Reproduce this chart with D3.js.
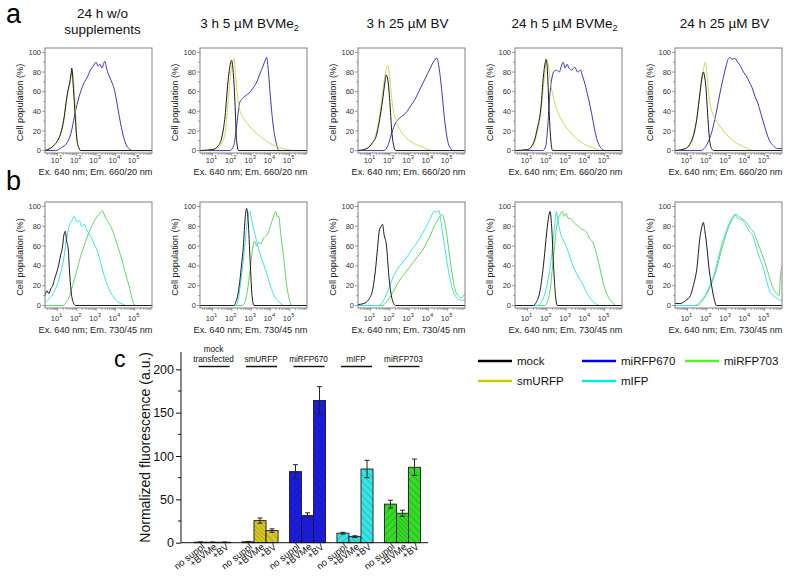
<!DOCTYPE html>
<html>
<head>
<meta charset="utf-8">
<script src="https://cdn.jsdelivr.net/npm/d3@7"></script>
<style>
  body { margin: 0; background: #fff; }
  svg { font-family: "Liberation Sans", Arial, sans-serif; display: block; }
</style>
</head>
<body>
<div id="chart"></div>
<script>
// ---- Histogramas: [log10 intensidad, % de células] ----
// fila a: Ex. 640 / Em. 660/20
const a1Mock = [[0.35,0],[0.6,2],[0.8,5],[1.0,10],[1.2,20],[1.35,35],[1.45,50],[1.55,62],[1.62,68],[1.7,78],[1.74,84],[1.8,70],[1.9,40],[2.0,12],[2.1,3],[2.2,0],[5.9,0]];
const a1Sm   = [[0.35,1],[0.6,2],[0.8,5],[1.0,10],[1.2,19],[1.35,33],[1.45,48],[1.55,60],[1.65,70],[1.72,78],[1.77,82],[1.83,72],[1.92,45],[2.0,15],[2.1,3],[2.3,0],[5.9,0]];
const a1Blue = [[0.35,0],[0.9,0],[1.2,3],[1.5,8],[1.7,18],[1.88,35],[2.05,50],[2.2,60],[2.4,70],[2.55,75],[2.7,82],[2.85,86],[3.0,90],[3.1,86],[3.2,88],[3.3,84],[3.45,91],[3.55,83],[3.7,75],[3.85,68],[3.95,62],[4.05,52],[4.2,35],[4.35,20],[4.5,9],[4.7,2],[4.9,0],[5.9,0]];

const a2Mock = [[0.35,0],[1.0,1],[1.3,5],[1.5,15],[1.65,35],[1.8,70],[1.92,88],[1.98,92],[2.05,85],[2.15,55],[2.25,10],[2.35,0],[5.9,0]];
const a2Sm   = [[0.35,0],[1.2,2],[1.5,8],[1.7,25],[1.85,60],[1.95,80],[2.05,90],[2.12,94],[2.2,75],[2.3,55],[2.43,40],[2.55,35],[2.7,30],[2.9,25],[3.2,19],[3.5,14],[3.85,9],[4.2,5],[4.5,3],[4.9,1],[5.2,0],[5.9,0]];
const a2Blue = [[0.35,0],[1.9,0],[2.1,5],[2.25,25],[2.4,48],[2.5,52],[2.65,55],[2.8,57],[3.0,61],[3.15,65],[3.3,70],[3.45,78],[3.6,85],[3.75,93],[3.8,95],[3.9,80],[4.0,55],[4.15,25],[4.3,8],[4.45,0],[5.9,0]];

const a3Mock = [[0.35,0],[0.8,2],[1.1,8],[1.3,15],[1.5,35],[1.65,55],[1.75,70],[1.82,77],[1.9,72],[2.0,50],[2.1,20],[2.2,5],[2.3,0],[5.9,0]];
const a3Sm   = [[0.35,0],[0.8,2],[1.1,8],[1.3,18],[1.5,40],[1.65,62],[1.78,80],[1.88,87],[1.95,82],[2.05,62],[2.15,45],[2.3,32],[2.5,22],[2.8,14],[3.1,9],[3.5,5],[3.9,2],[4.2,0],[5.9,0]];
const a3Blue = [[0.35,0],[1.7,0],[1.9,5],[2.1,18],[2.3,28],[2.5,33],[2.7,36],[2.9,40],[3.1,46],[3.3,52],[3.5,60],[3.7,68],[3.9,76],[4.1,84],[4.25,90],[4.35,93],[4.45,94],[4.55,85],[4.7,60],[4.85,30],[5.0,10],[5.15,2],[5.3,0],[5.9,0]];

const a4Mock = [[0.35,0],[1.0,1],[1.2,4],[1.35,10],[1.5,22],[1.7,45],[1.82,75],[1.92,90],[1.96,93],[2.02,85],[2.12,40],[2.22,8],[2.3,0],[5.9,0]];
const a4Sm   = [[0.35,0],[1.0,1],[1.3,6],[1.5,18],[1.7,40],[1.85,70],[1.95,88],[2.02,92],[2.1,85],[2.2,68],[2.3,58],[2.45,46],[2.6,38],[2.8,30],[3.0,24],[3.3,17],[3.6,11],[3.9,7],[4.2,4],[4.5,2],[4.8,0],[5.9,0]];
const a4Blue = [[0.35,0],[1.8,0],[1.95,5],[2.05,25],[2.15,55],[2.25,72],[2.35,80],[2.5,82],[2.65,80],[2.75,86],[2.85,90],[2.95,84],[3.05,88],[3.15,84],[3.3,82],[3.45,85],[3.6,80],[3.75,82],[3.85,76],[3.95,70],[4.1,58],[4.25,45],[4.4,30],[4.55,15],[4.7,6],[4.9,1],[5.0,0],[5.9,0]];

const a5Mock = [[0.35,0],[0.9,2],[1.1,6],[1.3,15],[1.5,35],[1.65,60],[1.75,75],[1.82,80],[1.88,76],[1.95,65],[2.05,35],[2.15,10],[2.25,2],[2.35,0],[5.9,0]];
const a5Sm   = [[0.35,0],[0.9,2],[1.2,8],[1.4,22],[1.6,50],[1.75,72],[1.85,85],[1.92,90],[2.0,80],[2.1,58],[2.2,45],[2.35,35],[2.6,27],[2.9,19],[3.2,13],[3.5,8],[3.8,5],[4.1,2],[4.5,0],[5.9,0]];
const a5Blue = [[0.35,0],[1.7,0],[1.9,3],[2.1,10],[2.3,22],[2.45,35],[2.6,50],[2.75,65],[2.9,78],[3.0,86],[3.1,93],[3.2,95],[3.3,93],[3.45,94],[3.6,90],[3.75,86],[3.9,80],[4.05,76],[4.2,70],[4.35,64],[4.5,55],[4.65,48],[4.8,38],[4.95,28],[5.1,18],[5.25,10],[5.45,5],[5.65,2],[5.9,2]];

// fila b: Ex. 640 / Em. 730/45
const b1Mock  = [[0.35,10],[0.45,15],[0.55,12],[0.65,17],[0.75,20],[0.85,27],[0.95,33],[1.05,40],[1.15,50],[1.25,58],[1.32,70],[1.4,75],[1.47,65],[1.55,58],[1.62,35],[1.7,15],[1.8,4],[1.95,0],[5.9,0]];
const b1Cyan  = [[0.35,3],[0.5,6],[0.7,10],[0.85,15],[1.0,22],[1.15,32],[1.3,45],[1.45,65],[1.6,80],[1.75,86],[1.87,90],[2.0,84],[2.12,86],[2.25,80],[2.38,82],[2.55,75],[2.72,70],[2.9,62],[3.07,55],[3.25,42],[3.42,30],[3.6,20],[3.85,10],[4.05,5],[4.3,2],[4.6,0],[5.9,0]];
const b1Green = [[0.35,0],[1.3,0],[1.45,3],[1.6,8],[1.78,20],[2.0,35],[2.2,50],[2.38,60],[2.55,70],[2.72,78],[2.9,85],[3.05,90],[3.2,93],[3.33,96],[3.45,90],[3.6,85],[3.76,80],[3.95,70],[4.12,60],[4.28,50],[4.45,38],[4.6,27],[4.71,20],[4.85,8],[4.97,1],[5.1,0],[5.9,0]];

const b2Mock  = [[0.35,0],[2.1,0],[2.2,3],[2.35,15],[2.5,40],[2.6,60],[2.7,90],[2.77,98],[2.85,85],[2.95,45],[3.05,10],[3.15,0],[5.9,0]];
const b2Cyan  = [[0.35,0],[2.2,0],[2.35,8],[2.5,30],[2.65,55],[2.8,85],[2.93,95],[3.0,90],[3.1,80],[3.2,72],[3.35,60],[3.5,50],[3.68,40],[3.85,30],[4.0,20],[4.2,10],[4.43,4],[4.7,0],[5.9,0]];
const b2Green = [[0.35,0],[2.55,0],[2.7,5],[2.85,20],[3.0,45],[3.1,60],[3.18,65],[3.3,60],[3.4,64],[3.5,62],[3.65,68],[3.75,70],[3.85,72],[4.0,80],[4.1,86],[4.2,92],[4.27,95],[4.35,90],[4.43,90],[4.55,70],[4.68,50],[4.85,20],[5.0,5],[5.1,0],[5.9,0]];

const b3Mock  = [[0.35,1],[0.65,2],[0.9,6],[1.1,15],[1.25,35],[1.35,55],[1.45,75],[1.55,80],[1.62,82],[1.7,72],[1.83,60],[1.95,30],[2.08,10],[2.2,2],[2.3,0],[5.9,0]];
const b3Cyan  = [[0.35,0],[1.4,0],[1.6,3],[1.8,10],[2.0,20],[2.2,30],[2.4,37],[2.6,42],[2.8,47],[3.0,52],[3.15,57],[3.35,62],[3.55,68],[3.7,73],[3.85,78],[4.0,84],[4.15,90],[4.3,95],[4.45,94],[4.55,96],[4.65,85],[4.8,65],[5.0,40],[5.2,20],[5.4,10],[5.6,6],[5.9,5]];
const b3Green = [[0.35,0],[1.6,0],[1.8,3],[2.0,8],[2.2,15],[2.4,22],[2.6,28],[2.8,33],[3.0,38],[3.15,42],[3.35,47],[3.55,52],[3.7,56],[3.85,61],[4.0,67],[4.15,73],[4.3,80],[4.45,85],[4.6,90],[4.7,92],[4.8,88],[4.95,72],[5.1,50],[5.25,30],[5.4,15],[5.55,10],[5.7,8],[5.9,12]];

const b4Mock  = [[0.35,0],[1.3,0],[1.45,3],[1.65,15],[1.85,45],[2.0,75],[2.1,90],[2.17,95],[2.25,80],[2.35,40],[2.45,10],[2.55,0],[5.9,0]];
const b4Cyan  = [[0.35,0],[1.5,0],[1.7,3],[1.9,12],[2.1,30],[2.25,50],[2.35,70],[2.45,88],[2.5,95],[2.55,90],[2.65,78],[2.75,70],[2.85,66],[3.0,60],[3.15,52],[3.35,40],[3.55,32],[3.75,25],[3.9,20],[4.1,12],[4.35,5],[4.6,1],[4.8,0],[5.9,0]];
const b4Green = [[0.35,0],[1.9,0],[2.05,5],[2.2,20],[2.3,40],[2.4,60],[2.5,78],[2.6,88],[2.7,92],[2.8,95],[2.9,90],[3.0,93],[3.1,88],[3.2,88],[3.35,85],[3.5,82],[3.65,80],[3.8,77],[3.95,76],[4.1,73],[4.2,68],[4.35,65],[4.5,58],[4.6,50],[4.75,38],[4.9,25],[5.0,18],[5.15,10],[5.3,5],[5.45,2],[5.6,0],[5.9,0]];

const b5Mock  = [[0.35,2],[0.6,2],[0.9,5],[1.15,10],[1.3,20],[1.5,40],[1.62,65],[1.75,80],[1.82,84],[1.9,75],[2.0,60],[2.1,40],[2.25,20],[2.4,5],[2.5,0],[5.9,0]];
const b5Cyan  = [[0.35,0],[1.4,0],[1.6,3],[1.9,10],[2.15,20],[2.35,30],[2.5,40],[2.65,52],[2.75,60],[2.95,72],[3.1,80],[3.3,88],[3.45,92],[3.6,88],[3.75,87],[3.9,85],[4.05,80],[4.2,75],[4.4,70],[4.55,60],[4.7,50],[4.9,40],[5.1,25],[5.25,15],[5.45,10],[5.65,7],[5.9,5]];
const b5Green = [[0.35,0],[1.5,0],[1.7,3],[1.95,10],[2.2,20],[2.4,30],[2.55,40],[2.7,52],[2.85,62],[3.0,72],[3.15,80],[3.35,88],[3.5,92],[3.65,90],[3.8,88],[3.95,86],[4.1,83],[4.25,78],[4.4,75],[4.55,68],[4.7,60],[4.9,50],[5.1,38],[5.3,25],[5.5,15],[5.65,12],[5.75,10],[5.82,30],[5.9,40]];

const titleMain = ["24 h w/o", "3 h 5 µM BVMe", "3 h 25 µM BV", "24 h 5 µM BVMe", "24 h 25 µM BV"];
const titleSub  = ["", "2", "", "2", ""];
const xTickExp = [1, 2, 3, 4, 5];
const yTicks = [0, 20, 40, 60, 80, 100];

// ---- Gráfico de barras (c) ----
const groups = ["mock transfected", "smURFP", "miRFP670", "mIFP", "miRFP703"];
const conditions = ["no suppl", "+BVMe", "+BV"];
const meanNoSuppl = [0.6, 1, 82, 11, 44.5];
const meanBVMe    = [0.5, 25.5, 31.5, 7, 34];
const meanBV      = [0.5, 14, 164, 85, 87];
const errNoSuppl  = [0.3, 0.5, 8, 1, 4.5];
const errBVMe     = [0.3, 3, 3, 1, 3.5];
const errBV       = [0.3, 2, 16, 10, 9.5];
const barTicks = [0, 50, 100, 150, 200];

const legendNames = ["mock", "miRFP670", "miRFP703", "smURFP", "mIFP"];

// colores
const histColor = { mock: "#1a1a1a", smURFP: "#d4d45c", miRFP670: "#3a3ab2", mIFP: "#3fdfe6", miRFP703: "#5fd45f" };
const barColor = ["#2a2a2a", "#d8c824", "#1c1ce0", "#35e4e4", "#34dc24"];
const legendColor = { mock: "#000000", smURFP: "#cccc00", miRFP670: "#0000ee", mIFP: "#00eeee", miRFP703: "#55ee33" };

// ---- SVG ----
const W = 800, H = 587;
const svg = d3.select("#chart").append("svg").attr("width", W).attr("height", H);
const defs = svg.append("defs");

const panelLeft = [45, 200, 358, 515, 675];
const panelW = 107;
const logLo = 0.35, logHi = 5.9;

const rows = [
  { top: 48, bottom: 153, tickY: 163, titleY: 175, xTitle: "Ex. 640 nm; Em. 660/20 nm",
    curves: [
      { miRFP670: a1Blue, smURFP: a1Sm, mock: a1Mock },
      { miRFP670: a2Blue, smURFP: a2Sm, mock: a2Mock },
      { miRFP670: a3Blue, smURFP: a3Sm, mock: a3Mock },
      { miRFP670: a4Blue, smURFP: a4Sm, mock: a4Mock },
      { miRFP670: a5Blue, smURFP: a5Sm, mock: a5Mock }
    ] },
  { top: 202, bottom: 308, tickY: 321, titleY: 333, xTitle: "Ex. 640 nm; Em. 730/45 nm",
    curves: [
      { miRFP703: b1Green, mIFP: b1Cyan, mock: b1Mock },
      { miRFP703: b2Green, mIFP: b2Cyan, mock: b2Mock },
      { miRFP703: b3Green, mIFP: b3Cyan, mock: b3Mock },
      { miRFP703: b4Green, mIFP: b4Cyan, mock: b4Mock },
      { miRFP703: b5Green, mIFP: b5Cyan, mock: b5Mock }
    ] }
];

const frameColor = "#808080";

rows.forEach((row, ri) => {
  row.curves.forEach((curveSet, pi) => {
    const left = panelLeft[pi];
    const x = d3.scaleLinear().domain([logLo, logHi]).range([left, left + panelW]);
    const y = d3.scaleLinear().domain([-2.5, 104.5]).range([row.bottom, row.top]);
    const g = svg.append("g");

    // recorte al marco
    const clipId = `clip-${ri}-${pi}`;
    defs.append("clipPath").attr("id", clipId)
      .append("rect").attr("x", left).attr("y", row.top)
      .attr("width", panelW).attr("height", row.bottom - row.top);

    const line = d3.line().x(d => x(d[0])).y(d => y(d[1])).curve(d3.curveMonotoneX);
    const cg = g.append("g").attr("clip-path", `url(#${clipId})`);
    Object.entries(curveSet).forEach(([name, pts]) => {
      cg.append("path").attr("d", line(pts))
        .attr("fill", "none").attr("stroke", histColor[name])
        .attr("stroke-width", 1).attr("stroke-linejoin", "round");
    });

    // marco
    g.append("rect").attr("x", left).attr("y", row.top)
      .attr("width", panelW).attr("height", row.bottom - row.top)
      .attr("fill", "none").attr("stroke", frameColor).attr("stroke-width", 1);

    // ticks eje y
    d3.range(0, 101, 10).forEach(v => {
      const major = v % 20 === 0;
      g.append("line").attr("x1", left).attr("x2", left - (major ? 3 : 1.8))
        .attr("y1", y(v)).attr("y2", y(v)).attr("stroke", frameColor).attr("stroke-width", 0.8);
    });
    g.selectAll(".yl").data(yTicks).enter().append("text")
      .attr("x", left - 4).attr("y", d => y(d) + 2.6)
      .attr("text-anchor", "end").attr("font-size", 7.5).attr("fill", "#333")
      .text(d => d);

    // ticks eje x (log)
    for (let e = 0; e <= 5; e++) {
      for (let m = 1; m <= 9; m++) {
        const lv = e + Math.log10(m);
        if (lv < logLo || lv > logHi) continue;
        g.append("line").attr("x1", x(lv)).attr("x2", x(lv))
          .attr("y1", row.bottom).attr("y2", row.bottom + (m === 1 ? 3 : 1.8))
          .attr("stroke", frameColor).attr("stroke-width", 0.8);
      }
    }
    const xl = g.selectAll(".xl").data(xTickExp).enter().append("text")
      .attr("x", d => x(d) - 1).attr("y", row.tickY)
      .attr("text-anchor", "middle").attr("font-size", 7.5).attr("fill", "#333");
    xl.append("tspan").text("10");
    xl.append("tspan").attr("dy", -4).attr("font-size", 5.8).text(d => d);

    // títulos de ejes
    g.append("text")
      .attr("transform", `translate(${left - 22},${(row.top + row.bottom) / 2 + 2}) rotate(-90)`)
      .attr("text-anchor", "middle").attr("font-size", 9.2).attr("fill", "#222")
      .text("Cell population (%)");
    g.append("text").attr("x", left + panelW / 2 - 3).attr("y", row.titleY)
      .attr("text-anchor", "middle").attr("font-size", 9.2).attr("fill", "#222")
      .text(row.xTitle);

    // título del panel (solo fila a)
    if (ri === 0) {
      const cx = left + panelW / 2 + (pi === 0 ? 4 : -4);
      if (pi === 0) {
        g.append("text").attr("x", cx).attr("y", 18).attr("text-anchor", "middle")
          .attr("font-size", 13.5).attr("fill", "#111").text(titleMain[pi]);
        g.append("text").attr("x", cx).attr("y", 34).attr("text-anchor", "middle")
          .attr("font-size", 13.5).attr("fill", "#111").text("supplements");
      } else {
        const t = g.append("text").attr("x", cx).attr("y", 28).attr("text-anchor", "middle")
          .attr("font-size", 13.5).attr("fill", "#111");
        t.append("tspan").text(titleMain[pi]);
        if (titleSub[pi]) t.append("tspan").attr("dy", 3).attr("font-size", 9).text(titleSub[pi]);
      }
    }
  });
});

// etiquetas de panel
svg.append("text").attr("x", 6).attr("y", 23).attr("font-size", 27).text("a");
svg.append("text").attr("x", 6).attr("y", 190).attr("font-size", 27).text("b");
svg.append("text").attr("x", 114).attr("y", 367).attr("font-size", 23).text("c");

// ---- barras ----
const x0 = d3.scaleBand().domain(groups).range([185, 430]).paddingInner(0.24).paddingOuter(0.2);
const x1 = d3.scaleBand().domain(conditions).range([0, x0.bandwidth()]);
const yB = d3.scaleLinear().domain([0, 220]).range([542.7, 352]);

const means = [meanNoSuppl, meanBVMe, meanBV];
const errs = [errNoSuppl, errBVMe, errBV];
const barData = [];
groups.forEach((gname, gi) => {
  conditions.forEach((cname, ci) => {
    barData.push({ group: gname, gi, cond: cname, ci, mean: means[ci][gi], err: errs[ci][gi] });
  });
});

// rayados
const hatchSpacing = [5, 3, 5];
const hatchAngle = [45, -45, -45];
barData.forEach(d => {
  const id = `hatch-${d.gi}-${d.ci}`;
  const s = hatchSpacing[d.ci];
  const p = defs.append("pattern").attr("id", id).attr("patternUnits", "userSpaceOnUse")
    .attr("width", s).attr("height", s)
    .attr("patternTransform", `rotate(${hatchAngle[d.ci]})`);
  p.append("rect").attr("width", s).attr("height", s).attr("fill", barColor[d.gi]);
  p.append("line").attr("x1", 0).attr("y1", 0).attr("x2", 0).attr("y2", s)
    .attr("stroke", d3.color(barColor[d.gi]).darker(1.3)).attr("stroke-width", 0.9);
});

const bars = svg.append("g");
bars.selectAll("rect").data(barData).enter().append("rect")
  .attr("x", d => x0(d.group) + x1(d.cond))
  .attr("y", d => yB(d.mean))
  .attr("width", x1.bandwidth())
  .attr("height", d => yB(0) - yB(d.mean))
  .attr("fill", d => `url(#hatch-${d.gi}-${d.ci})`)
  .attr("stroke", "#1a1a1a").attr("stroke-width", 0.9);

// barras de error
const eb = svg.append("g").attr("stroke", "#222").attr("stroke-width", 1);
barData.forEach(d => {
  const cx = x0(d.group) + x1(d.cond) + x1.bandwidth() / 2;
  eb.append("line").attr("x1", cx).attr("x2", cx).attr("y1", yB(d.mean - d.err)).attr("y2", yB(d.mean + d.err));
  [d.mean - d.err, d.mean + d.err].forEach(v => {
    eb.append("line").attr("x1", cx - 2.5).attr("x2", cx + 2.5).attr("y1", yB(v)).attr("y2", yB(v));
  });
});

// ejes
const yAxisG = svg.append("g").attr("transform", "translate(181,0)")
  .call(d3.axisLeft(yB).tickValues(barTicks).tickSize(5).tickPadding(2));
yAxisG.select(".domain").attr("d", `M0,${yB(0)}V${yB(220)}`).attr("stroke", "#111");
yAxisG.selectAll("text").attr("font-size", 12.5).attr("font-family", "Liberation Sans, Arial, sans-serif").attr("fill", "#111");
yAxisG.selectAll(".tick line").attr("stroke", "#111");
[25, 75, 125, 175].forEach(v => {
  yAxisG.append("line").attr("x1", 0).attr("x2", -3).attr("y1", yB(v)).attr("y2", yB(v)).attr("stroke", "#111");
});
svg.append("line").attr("x1", 181).attr("x2", 428).attr("y1", yB(0)).attr("y2", yB(0)).attr("stroke", "#111");

svg.append("text")
  .attr("transform", `translate(150,${(yB(0) + yB(220)) / 2}) rotate(-90)`)
  .attr("text-anchor", "middle").attr("font-size", 14).attr("fill", "#111")
  .text("Normalized fluorescence (a.u.)");

// etiquetas inclinadas
svg.append("g").selectAll("text").data(barData).enter().append("text")
  .attr("transform", d => {
    const cx = x0(d.group) + x1(d.cond) + x1.bandwidth() / 2 + 5;
    return `translate(${cx},548) rotate(-38)`;
  })
  .attr("text-anchor", "end").attr("font-size", 9.5).attr("fill", "#111")
  .text(d => d.cond);

// cabeceras de grupo
const hg = svg.append("g");
groups.forEach(gname => {
  const gx = x0(gname), bw = x0.bandwidth();
  const parts = gname === "mock transfected" ? ["mock", "transfected"] : [gname];
  parts.forEach((p, i) => {
    hg.append("text").attr("x", gx + bw / 2 + 1).attr("y", 362 - (parts.length - 1 - i) * 10)
      .attr("text-anchor", "middle").attr("font-size", 8.2).attr("fill", "#111").text(p);
  });
  hg.append("line").attr("x1", gx + 4).attr("x2", gx + bw - 1)
    .attr("y1", 366.5).attr("y2", 366.5).attr("stroke", "#111").attr("stroke-width", 1.4);
});

// leyenda
const legCols = [478, 582, 685];
const legRows = [361, 381];
const leg = svg.append("g");
legendNames.forEach((name, i) => {
  const lx = legCols[i % 3], ly = legRows[Math.floor(i / 3)];
  leg.append("line").attr("x1", lx).attr("x2", lx + 34).attr("y1", ly).attr("y2", ly)
    .attr("stroke", legendColor[name]).attr("stroke-width", 2.6);
  leg.append("text").attr("x", lx + 39).attr("y", ly + 4).attr("font-size", 11.5).attr("fill", "#111").text(name);
});
</script>
</body>
</html>
